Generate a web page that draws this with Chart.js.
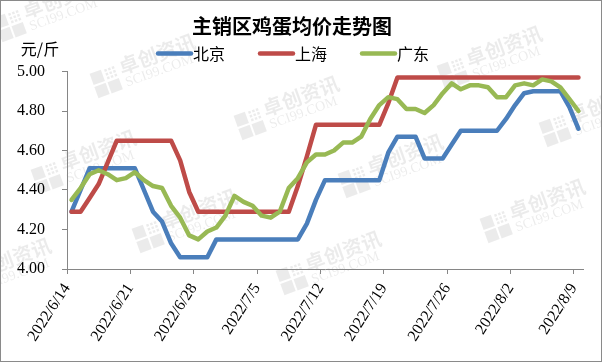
<!DOCTYPE html>
<html>
<head>
<meta charset="utf-8">
<script src="https://cdn.jsdelivr.net/npm/chart.js@4.4.0/dist/chart.umd.min.js"></script>
<style>
body { margin: 0; background: #fff; }
#box { width: 600px; height: 360px; border: 1px solid #8a8a8a; position: relative; background: #fff; }
</style>
</head>
<body>
<div id="box"><canvas id="eggChart"></canvas></div>
<script>
var chartTitle = '主销区鸡蛋均价走势图';
var unitLabel = '元/斤';
var seriesNames = ['北京', '上海', '广东'];

var dates = [
    '2022/6/14', '2022/6/15', '2022/6/16', '2022/6/17', '2022/6/18', '2022/6/19', '2022/6/20',
    '2022/6/21', '2022/6/22', '2022/6/23', '2022/6/24', '2022/6/25', '2022/6/26', '2022/6/27',
    '2022/6/28', '2022/6/29', '2022/6/30', '2022/7/1', '2022/7/2', '2022/7/3', '2022/7/4',
    '2022/7/5', '2022/7/6', '2022/7/7', '2022/7/8', '2022/7/9', '2022/7/10', '2022/7/11',
    '2022/7/12', '2022/7/13', '2022/7/14', '2022/7/15', '2022/7/16', '2022/7/17', '2022/7/18',
    '2022/7/19', '2022/7/20', '2022/7/21', '2022/7/22', '2022/7/23', '2022/7/24', '2022/7/25',
    '2022/7/26', '2022/7/27', '2022/7/28', '2022/7/29', '2022/7/30', '2022/7/31', '2022/8/1',
    '2022/8/2', '2022/8/3', '2022/8/4', '2022/8/5', '2022/8/6', '2022/8/7', '2022/8/8',
    '2022/8/9'
];

var tickLabels = ['2022/6/14', '2022/6/21', '2022/6/28', '2022/7/5', '2022/7/12',
    '2022/7/19', '2022/7/26', '2022/8/2', '2022/8/9'];

var yTicks = [4.00, 4.20, 4.40, 4.60, 4.80, 5.00];

var beijing = [
    4.29, 4.40, 4.51, 4.51, 4.51, 4.51, 4.51, 4.51, 4.40, 4.29,
    4.24, 4.13, 4.06, 4.06, 4.06, 4.06, 4.15, 4.15, 4.15, 4.15,
    4.15, 4.15, 4.15, 4.15, 4.15, 4.15, 4.23, 4.35, 4.45, 4.45,
    4.45, 4.45, 4.45, 4.45, 4.45, 4.59, 4.67, 4.67, 4.67, 4.56,
    4.56, 4.56, 4.63, 4.70, 4.70, 4.70, 4.70, 4.70, 4.76, 4.83,
    4.89, 4.90, 4.90, 4.90, 4.90, 4.82, 4.71
];

var shanghai = [
    4.29, 4.29, 4.36, 4.43, 4.54, 4.65, 4.65, 4.65, 4.65, 4.65,
    4.65, 4.65, 4.55, 4.39, 4.29, 4.29, 4.29, 4.29, 4.29, 4.29,
    4.29, 4.29, 4.29, 4.29, 4.29, 4.42, 4.57, 4.73, 4.73, 4.73,
    4.73, 4.73, 4.73, 4.73, 4.73, 4.84, 4.97, 4.97, 4.97, 4.97,
    4.97, 4.97, 4.97, 4.97, 4.97, 4.97, 4.97, 4.97, 4.97, 4.97,
    4.97, 4.97, 4.97, 4.97, 4.97, 4.97, 4.97
];

var guangdong = [
    4.35, 4.41, 4.48, 4.50, 4.48, 4.45, 4.46, 4.49, 4.45, 4.42,
    4.41, 4.32, 4.26, 4.17, 4.15, 4.19, 4.21, 4.27, 4.37, 4.34,
    4.32, 4.27, 4.26, 4.29, 4.41, 4.46, 4.54, 4.58, 4.58, 4.60,
    4.64, 4.64, 4.67, 4.76, 4.83, 4.87, 4.86, 4.81, 4.81, 4.79,
    4.83, 4.89, 4.94, 4.91, 4.93, 4.93, 4.92, 4.87, 4.87, 4.93,
    4.94, 4.93, 4.96, 4.95, 4.92, 4.86, 4.80
];

var seriesColors = ['#4a7ebb', '#be4b48', '#98b954'];

var cjkFont = '"Noto Sans CJK SC", sans-serif';
var numFont = '"Liberation Serif", "Times New Roman", serif';

// faint site watermark, repeated behind the chart
var watermarkText = '卓创资讯';
var watermarkSub = 'SCI99.COM';
var watermarkSpots = [
    [-2, 30], [94, 86], [441, 78], [238, 128], [543, 135], [35, 182],
    [342, 186], [136, 241], [484, 231], [280, 283], [-50, 290]
];

function toPoints(values) {
    return values.map(function(v, i) {
        return { x: i, y: v };
    });
}

function drawWatermark(ctx, x, y) {
    ctx.save();
    ctx.translate(x, y);
    ctx.rotate(-20 * Math.PI / 180);
    ctx.fillStyle = 'rgba(0, 0, 0, 0.08)';
    ctx.fillRect(0, -13, 12, 12);
    ctx.fillRect(0, 1, 12, 12);
    ctx.fillRect(14, 1, 12, 12);
    for (var r = 0; r < 3; r++) {
        for (var c = 0; c < 3; c++) {
            ctx.fillRect(15 + c * 4, -12 + r * 4, 2.5, 2.5);
        }
    }
    ctx.textAlign = 'left';
    ctx.textBaseline = 'alphabetic';
    ctx.font = 'bold 20px ' + cjkFont;
    ctx.fillText(watermarkText, 30, -1);
    ctx.font = '14px ' + numFont;
    ctx.fillText(watermarkSub, 31, 12);
    ctx.restore();
}

var watermarkPlugin = {
    id: 'watermark',
    beforeDraw: function(chart) {
        var ctx = chart.ctx;
        watermarkSpots.forEach(function(p) {
            drawWatermark(ctx, p[0] - 1, p[1] - 1);
        });
    }
};

// legend and unit label, drawn above the plot
var headerPlugin = {
    id: 'headerText',
    afterDraw: function(chart) {
        var ctx = chart.ctx;
        ctx.save();
        ctx.textBaseline = 'middle';
        ctx.fillStyle = '#000';

        ctx.font = '16px ' + cjkFont;
        ctx.textAlign = 'center';
        ctx.fillText(unitLabel, 39, 48);

        ctx.textAlign = 'left';
        var x = 155;
        var y = 52.5;
        chart.data.datasets.forEach(function(ds) {
            ctx.strokeStyle = ds.borderColor;
            ctx.lineWidth = 4.5;
            ctx.lineCap = 'round';
            ctx.beginPath();
            ctx.moveTo(x + 2, y);
            ctx.lineTo(x + 35, y);
            ctx.stroke();
            ctx.fillText(ds.label, x + 37, y);
            x += 37 + ctx.measureText(ds.label).width + 33;
        });
        ctx.restore();
    }
};

var ctx = document.getElementById('eggChart');
var eggChart = new Chart(ctx, {
    type: 'line',
    data: {
        datasets: [{
                label: seriesNames[0],
                data: toPoints(beijing),
                borderColor: seriesColors[0],
                order: 2
            },
            {
                label: seriesNames[1],
                data: toPoints(shanghai),
                borderColor: seriesColors[1],
                order: 1
            },
            {
                label: seriesNames[2],
                data: toPoints(guangdong),
                borderColor: seriesColors[2],
                order: 0
            }
        ]
    },
    options: {
        responsive: true,
        maintainAspectRatio: false,
        animation: false,
        devicePixelRatio: 1,
        layout: {
            padding: { left: 0, right: 18, top: 0, bottom: 0 }
        },
        elements: {
            line: { borderWidth: 4.5, tension: 0, fill: false, borderJoinStyle: 'round', borderCapStyle: 'round' },
            point: { radius: 0, hoverRadius: 0 }
        },
        plugins: {
            legend: { display: false },
            tooltip: { enabled: false },
            title: {
                display: true,
                text: chartTitle,
                color: '#000',
                font: { family: cjkFont, size: 20, weight: 'bold' },
                padding: { top: 13.5, bottom: 33 }
            }
        },
        scales: {
            x: {
                type: 'linear',
                min: -0.5,
                max: dates.length - 0.5,
                afterBuildTicks: function(scale) {
                    scale.ticks = tickLabels.map(function(t) {
                        return { value: dates.indexOf(t) - 0.5 };
                    });
                },
                afterFit: function(scale) {
                    scale.height = 92;
                },
                ticks: {
                    autoSkip: false,
                    minRotation: 57,
                    maxRotation: 57,
                    padding: 6,
                    color: '#000',
                    font: { family: numFont, size: 16 },
                    callback: function(value, index) {
                        return tickLabels[index];
                    }
                },
                grid: { drawOnChartArea: false, drawTicks: true, tickLength: 5, color: '#868686' },
                border: { display: true, color: '#868686' }
            },
            y: {
                min: yTicks[0],
                max: yTicks[yTicks.length - 1],
                afterBuildTicks: function(scale) {
                    scale.ticks = yTicks.map(function(v) {
                        return { value: v };
                    });
                },
                afterFit: function(scale) {
                    scale.width = 66;
                },
                ticks: {
                    padding: 17,
                    color: '#000',
                    font: { family: numFont, size: 16 },
                    callback: function(value) {
                        return value.toFixed(2);
                    }
                },
                grid: { drawOnChartArea: false, drawTicks: true, tickLength: 5, color: '#868686' },
                border: { display: true, color: '#868686' }
            }
        }
    },
    plugins: [watermarkPlugin, headerPlugin]
});
</script>
</body>
</html>
